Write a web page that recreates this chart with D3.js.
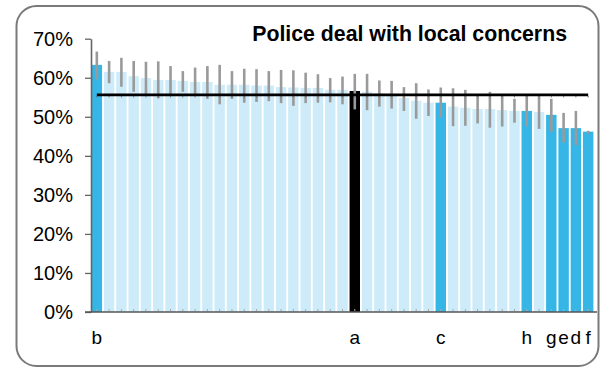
<!DOCTYPE html>
<html>
<head>
<meta charset="utf-8">
<script src="https://cdn.jsdelivr.net/npm/d3@7/dist/d3.min.js"></script>
<style>
  html, body { margin: 0; padding: 0; background: #fff; }
  svg { display: block; font-family: "Liberation Sans", Arial, sans-serif; }
</style>
</head>
<body>
<svg id="chart" width="605" height="373"></svg>
<script>
// ---- data ----
const title = "Police deal with local concerns";
const labels = ["b","","","","","","","","","","","","","","","","","","","","","a","","","","","","","c","","","","","","","h","","g","e","d","f"];
const kinds  = ["hi","lo","lo","lo","lo","lo","lo","lo","lo","lo","lo","lo","lo","lo","lo","lo","lo","lo","lo","lo","lo","ref","lo","lo","lo","lo","lo","lo","hi","lo","lo","lo","lo","lo","lo","hi","lo","hi","hi","hi","hi"];
const values = [63.3,61.5,61.5,60.4,59.9,59.4,59.4,59.2,58.9,58.9,58.2,58.2,58.2,58.0,58.0,57.6,57.5,57.4,57.4,56.9,56.9,56.6,56.4,56.0,55.5,54.8,54.1,53.6,53.6,52.6,52.3,52.0,52.0,51.7,51.5,51.5,51.2,50.5,47.1,47.1,46.2];
const errHigh = [66.7,64.3,65.1,64.3,64.1,64.2,63.0,61.7,62.6,63.0,63.3,61.7,62.3,62.2,61.7,62.0,61.9,61.3,60.9,59.9,60.3,61.0,61.0,59.3,59.2,57.6,58.6,57.0,57.5,57.3,56.9,55.6,56.4,55.5,54.6,55.4,55.4,54.6,51.0,51.5,46.4];
const errLow  = [59.6,58.6,57.7,56.4,55.6,54.7,55.6,56.4,55.3,54.6,53.2,54.6,53.6,53.8,54.0,53.5,52.8,53.5,53.6,53.7,53.2,51.9,51.7,52.6,52.1,51.5,49.5,50.2,49.8,47.6,47.7,48.3,47.2,47.5,48.5,47.5,46.9,46.2,43.4,42.7,45.6];
const average = 55.6;
const yTicks = [0,10,20,30,40,50,60,70];

// ---- drawing ----
const svg = d3.select("#chart");
const colors = { hi: "#35b6e6", lo: "#cdebf8", ref: "#000000" };

svg.append("rect")
  .attr("x", 16.5).attr("y", 6).attr("width", 582).attr("height", 360)
  .attr("rx", 20).attr("ry", 20)
  .attr("fill", "#fff").attr("stroke", "#7a7a7a").attr("stroke-width", 2);

const idx = d3.range(values.length);
const x = d3.scaleBand().domain(idx).range([91, 594]).paddingInner(0.15).paddingOuter(0.05);
const y = d3.scaleLinear().domain([0, 70]).range([312, 38.7]);

// bars
svg.append("g").selectAll("rect").data(idx).join("rect")
  .attr("x", i => x(i)).attr("width", x.bandwidth())
  .attr("y", i => y(values[i])).attr("height", i => y(0) - y(values[i]))
  .attr("fill", i => colors[kinds[i]]);

// small ticks at bar bottoms
svg.append("g").selectAll("line").data(idx).join("line")
  .attr("x1", i => x(i) + x.bandwidth()/2).attr("x2", i => x(i) + x.bandwidth()/2)
  .attr("y1", y(0) - 3).attr("y2", y(0) - 1)
  .attr("stroke", "#aaa").attr("stroke-width", 1);

// error bars
svg.append("g").selectAll("line").data(idx).join("line")
  .attr("x1", i => x(i) + x.bandwidth()/2).attr("x2", i => x(i) + x.bandwidth()/2)
  .attr("y1", i => y(errHigh[i])).attr("y2", i => y(errLow[i]))
  .attr("stroke", "#9a9a9a").attr("stroke-width", 2.6);

// average line
const cx0 = x(0) + x.bandwidth()/2, cx1 = x(idx.length-1) + x.bandwidth()/2;
svg.append("line")
  .attr("x1", cx0).attr("x2", cx1).attr("y1", y(average)).attr("y2", y(average))
  .attr("stroke", "#000").attr("stroke-width", 2.6);
svg.append("g").selectAll("line").data(idx).join("line")
  .attr("x1", i => x(i) + x.bandwidth()/2).attr("x2", i => x(i) + x.bandwidth()/2)
  .attr("y1", y(average) + 1).attr("y2", y(average) + 2.5)
  .attr("stroke", "#666").attr("stroke-width", 1);

// y axis
const yAxis = d3.axisLeft(y).tickValues(yTicks).tickFormat(d => d + "%").tickSize(6).tickPadding(12).tickSizeOuter(0);
const gy = svg.append("g").attr("transform", "translate(91,0)").call(yAxis);
gy.select(".domain").attr("stroke", "#666").attr("stroke-width", 1.6);
gy.selectAll(".tick line").attr("stroke", "#666").attr("stroke-width", 1.3);
gy.selectAll(".tick text").attr("fill", "#000").style("font-size", "20px")
  .style("font-family", "'Liberation Sans', Arial, sans-serif");

// x axis line
svg.append("line").attr("x1", 85).attr("x2", 597).attr("y1", y(0)).attr("y2", y(0))
  .attr("stroke", "#555").attr("stroke-width", 1.6);

// x labels
svg.append("g").selectAll("text").data(idx.filter(i => labels[i] !== "")).join("text")
  .attr("x", i => x(i) + x.bandwidth()/2).attr("y", 344)
  .attr("text-anchor", "middle").style("font-size", "19px").attr("fill", "#000")
  .text(i => labels[i]);

// title
svg.append("text").attr("x", 567).attr("y", 41).attr("text-anchor", "end")
  .style("font-size", "21.3px").style("font-weight", "bold").attr("fill", "#000")
  .text(title);
</script>
</body>
</html>
